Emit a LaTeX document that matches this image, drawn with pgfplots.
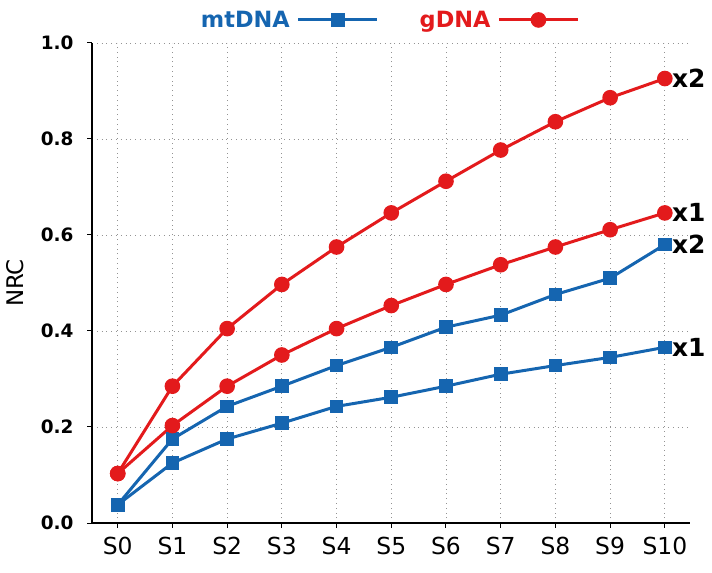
\documentclass[border=0pt]{standalone}
\usepackage{pgfplots}
\pgfplotsset{compat=1.18}
\usepackage{fontspec}
\setmainfont{DejaVu Sans}
\definecolor{mtblue}{HTML}{1565B0}
\definecolor{gred}{HTML}{E31A1C}
\begin{document}
\begin{tikzpicture}
\useasboundingbox (-92bp,-50bp) rectangle (620bp,523bp);
\begin{axis}[
  at={(0,0)}, anchor=south west,
  scale only axis, width=598bp, height=480bp,
  xmin=-0.47, xmax=10.46, ymin=0, ymax=1,
  axis x line*=bottom, axis y line*=left,
  axis line style={line width=1.1bp, black},
  xtick={0,1,2,3,4,5,6,7,8,9,10},
  xticklabels={S0,S1,S2,S3,S4,S5,S6,S7,S8,S9,S10},
  ytick={0,0.2,0.4,0.6,0.8,1.0},
  yticklabels={\textbf{0.0},\textbf{0.2},\textbf{0.4},\textbf{0.6},\textbf{0.8},\textbf{1.0}},
  tick align=outside, major tick length=5bp,
  tick style={black, line width=1bp},
  xticklabel style={font=\fontsize{23.5}{26}\selectfont, yshift=-6bp},
  yticklabel style={font=\fontsize{18.5}{20}\selectfont, xshift=-10bp},
  ylabel={NRC},
  ylabel style={font=\fontsize{23}{26}\selectfont},
  ylabel shift=10bp,
  grid=major,
  grid style={gray!85, line width=0.8bp, dash pattern=on 0.8bp off 4bp},
  clip=false,
  legend plot pos=right,
  legend columns=2,
  legend style={at={(0.497,1.048)}, anchor=center, draw=none, fill=none,
    font=\fontsize{22.5}{25}\selectfont\bfseries,
    /tikz/every odd column/.append style={column sep=5bp},
    /tikz/every even column/.append style={column sep=39bp},
    inner sep=0pt},
  legend image code/.code={\draw[mark repeat=2,mark phase=2,#1] plot coordinates {(0bp,0bp) (39.5bp,0bp) (79bp,0bp)};},
]
\addplot[mtblue, line width=3bp, mark=square*, mark size=5.3bp, mark options={solid}] coordinates {
(0,0.038) (1,0.175) (2,0.243) (3,0.285) (4,0.328) (5,0.366) (6,0.408) (7,0.433) (8,0.476) (9,0.510) (10,0.580)};
\addlegendentry{\textcolor{mtblue}{mtDNA}}
\addplot[gred, line width=3bp, mark=*, mark size=6.3bp] coordinates {
(0,0.103) (1,0.285) (2,0.405) (3,0.497) (4,0.575) (5,0.646) (6,0.712) (7,0.777) (8,0.836) (9,0.886) (10,0.926)};
\addlegendentry{\textcolor{gred}{gDNA}}
\addplot[forget plot, mtblue, line width=3bp, mark=square*, mark size=5.3bp] coordinates {
(0,0.038) (1,0.125) (2,0.175) (3,0.208) (4,0.243) (5,0.262) (6,0.285) (7,0.310) (8,0.328) (9,0.345) (10,0.366)};
\addplot[forget plot, gred, line width=3bp, mark=*, mark size=6.3bp] coordinates {
(0,0.103) (1,0.203) (2,0.285) (3,0.350) (4,0.405) (5,0.453) (6,0.497) (7,0.538) (8,0.575) (9,0.611) (10,0.646)};
\node[anchor=west, font=\fontsize{25}{27}\selectfont\bfseries, inner sep=0pt, xshift=7bp] at (axis cs:10,0.926) {x2};
\node[anchor=west, font=\fontsize{25}{27}\selectfont\bfseries, inner sep=0pt, xshift=7bp] at (axis cs:10,0.646) {x1};
\node[anchor=west, font=\fontsize{25}{27}\selectfont\bfseries, inner sep=0pt, xshift=7bp] at (axis cs:10,0.580) {x2};
\node[anchor=west, font=\fontsize{25}{27}\selectfont\bfseries, inner sep=0pt, xshift=7bp] at (axis cs:10,0.366) {x1};
\end{axis}
\end{tikzpicture}
\end{document}
